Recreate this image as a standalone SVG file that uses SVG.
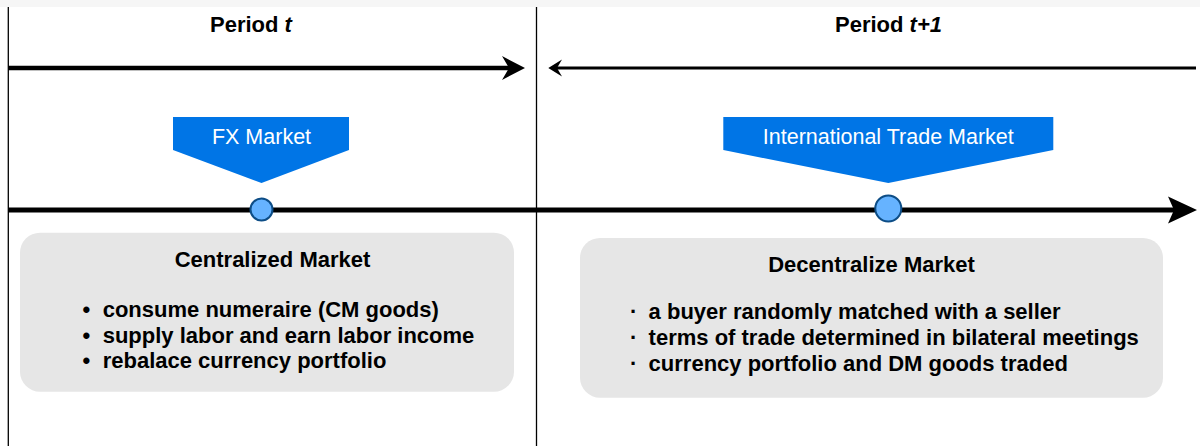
<svg xmlns="http://www.w3.org/2000/svg" width="1200" height="446" viewBox="0 0 1200 446">
  <style>
    .bg { fill: #ffffff; }
    .band { fill: #f6f6f6; }
    .divider { stroke: #000000; stroke-width: 1.3; fill: none; }
    .period { font-family: "Liberation Sans", Arial, Helvetica, sans-serif; font-size: 22px; font-weight: bold; fill: #000000; }
    .callout { fill: #0075e6; }
    .callout-text { font-family: "Liberation Sans", Arial, Helvetica, sans-serif; font-size: 21.5px; fill: #ffffff; text-anchor: middle; }
    .point { fill: #66b3ff; stroke: #0d4d86; stroke-width: 2; }
    .panel { fill: #e6e6e6; }
    .title { font-family: "Liberation Sans", Arial, Helvetica, sans-serif; font-size: 22px; font-weight: bold; fill: #000000; text-anchor: middle; }
    .item { font-family: "Liberation Sans", Arial, Helvetica, sans-serif; font-size: 22px; font-weight: bold; fill: #000000; }
    .line { stroke: #000000; fill: none; }
    .head { fill: #000000; stroke: none; }
  </style>

  <rect class="bg" x="0" y="0" width="1200" height="446"/>
  <rect class="band" x="0" y="0" width="1200" height="7"/>

  <g id="dividers">
    <line class="divider" x1="8.3" y1="7" x2="8.3" y2="446"/>
    <line class="divider" x1="536.5" y1="7" x2="536.5" y2="446"/>
  </g>

  <g id="period-t">
    <text class="period" x="210" y="31.5">Period <tspan font-style="italic">t</tspan></text>
  </g>
  <g id="period-t1">
    <text class="period" x="835" y="31.5">Period <tspan font-style="italic">t+1</tspan></text>
  </g>

  <g id="connectors">
    <line class="line" x1="8.3" y1="68" x2="510" y2="68" stroke-width="4.5"/>
    <path class="head" d="M525,68 L502,56 L509,68 L502,80 Z"/>
    <line class="line" x1="1196" y1="68" x2="556" y2="68" stroke-width="3"/>
    <path class="head" d="M548.3,68 L562,59.5 L557,68 L562,76.5 Z"/>
    <line class="line" x1="8.3" y1="210" x2="1175" y2="210" stroke-width="5"/>
    <path class="head" d="M1197,210 L1168,196.5 L1174,210 L1168,223.5 Z"/>
  </g>

  <g id="fx-market">
    <path class="callout" d="M173,117 L349,117 L349,150 L261.5,183 L173,150 Z"/>
    <text class="callout-text" x="261.5" y="144.3">FX Market</text>
  </g>
  <g id="fx-point">
    <circle class="point" cx="261.5" cy="209.5" r="11"/>
  </g>

  <g id="international-trade-market">
    <path class="callout" d="M723.3,117 L1053.3,117 L1053.3,150 L888.3,183 L723.3,150 Z"/>
    <text class="callout-text" x="888.3" y="144.3">International Trade Market</text>
  </g>
  <g id="itm-point">
    <circle class="point" cx="888.3" cy="208.5" r="13"/>
  </g>

  <g id="centralized-market">
    <rect class="panel" x="20" y="232.7" width="494" height="159" rx="20" ry="20"/>
    <text class="title" x="272.5" y="266.7">Centralized Market</text>
    <text class="item" x="82.5" y="316.7">•<tspan x="102.7">consume numeraire (CM goods)</tspan></text>
    <text class="item" x="82.5" y="342.5">•<tspan x="102.7">supply labor and earn labor income</tspan></text>
    <text class="item" x="82.5" y="368.3">•<tspan x="102.7">rebalace currency portfolio</tspan></text>
  </g>

  <g id="decentralize-market">
    <rect class="panel" x="580" y="238" width="583" height="159.7" rx="20" ry="20"/>
    <text class="title" x="871.5" y="271.7">Decentralize Market</text>
    <text class="item" x="630" y="319">·<tspan x="648.6">a buyer randomly matched with a seller</tspan></text>
    <text class="item" x="630" y="345">·<tspan x="648.6">terms of trade determined in bilateral meetings</tspan></text>
    <text class="item" x="630" y="370.7">·<tspan x="648.6">currency portfolio and DM goods traded</tspan></text>
  </g>
</svg>
